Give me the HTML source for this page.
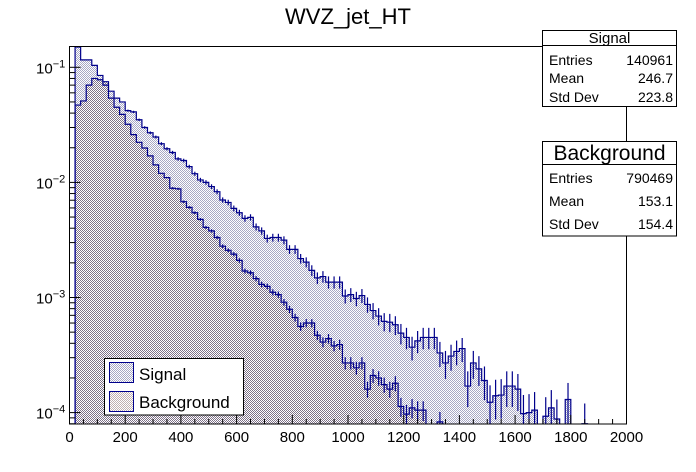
<!DOCTYPE html>
<html><head><meta charset="utf-8"><style>
html,body{margin:0;padding:0;background:#fff;}
svg{display:block;font-family:"Liberation Sans",Arial,sans-serif;}
</style></head><body>
<svg id="chart" width="696" height="472" viewBox="0 0 696 472">
<defs>
<pattern id="sigPat" patternUnits="userSpaceOnUse" width="2" height="2"><rect width="2" height="2" fill="#fff"/><rect x="0" y="0" width="1" height="1" fill="#a8a8c4"/><rect x="1" y="1" width="1" height="1" fill="#a8a8c4"/></pattern>
<pattern id="bkgPat" patternUnits="userSpaceOnUse" width="2" height="2"><rect width="2" height="2" fill="#fff"/><rect x="0" y="0" width="1" height="1" fill="#7e7288"/><rect x="1" y="1" width="1" height="1" fill="#7e7288"/></pattern>
<pattern id="bkgLegPat" patternUnits="userSpaceOnUse" width="2" height="2"><rect width="2" height="2" fill="#fff"/><rect x="0" y="0" width="1" height="1" fill="#c0b0b0"/><rect x="1" y="1" width="1" height="1" fill="#c0b0b0"/></pattern>
<clipPath id="frameClip"><rect x="69.5" y="46.5" width="557" height="377.5"/></clipPath>
</defs>
<text x="348" y="24" font-size="22" text-anchor="middle">WVZ_jet_HT</text>
<g id="plot" clip-path="url(#frameClip)"></g>
<rect x="69.5" y="46.5" width="557" height="377.5" fill="none" stroke="#000" stroke-width="1"/>
<g id="ticks"></g>

<g>
<rect x="542.5" y="30.5" width="134" height="76" fill="#fff" stroke="#000"/>
<line x1="542.5" y1="45.5" x2="676.5" y2="45.5" stroke="#000"/>
<text x="609.5" y="43" font-size="15" text-anchor="middle">Signal</text>
<text x="549" y="65" font-size="14">Entries</text><text x="673" y="65" font-size="14" text-anchor="end">140961</text>
<text x="549" y="83" font-size="14">Mean</text><text x="673" y="83" font-size="14" text-anchor="end">246.7</text>
<text x="549" y="102" font-size="14">Std Dev</text><text x="673" y="102" font-size="14" text-anchor="end">223.8</text>
</g>
<g>
<rect x="542.5" y="141.5" width="134" height="94.5" fill="#fff" stroke="#000"/>
<line x1="542.5" y1="164.5" x2="676.5" y2="164.5" stroke="#000"/>
<text x="609.5" y="160" font-size="21" text-anchor="middle">Background</text>
<text x="549" y="183" font-size="14">Entries</text><text x="673" y="183" font-size="14" text-anchor="end">790469</text>
<text x="549" y="206" font-size="14">Mean</text><text x="673" y="206" font-size="14" text-anchor="end">153.1</text>
<text x="549" y="229" font-size="14">Std Dev</text><text x="673" y="229" font-size="14" text-anchor="end">154.4</text>
</g>
<g>
<rect x="104.5" y="358.5" width="139" height="56.5" fill="#fff" stroke="#000"/>
<rect x="109.5" y="362.5" width="24" height="20" fill="url(#sigPat)" stroke="#00008b"/>
<text x="139" y="380" font-size="17">Signal</text>
<rect x="109.5" y="391.5" width="24" height="20" fill="url(#bkgLegPat)" stroke="#00008b"/>
<text x="139" y="408" font-size="17">Background</text>
</g>
</svg>
<script>
const binEdgesStart = 0;
const binWidth = 20;
const signalValues = [0,0.15,0.116,0.116,0.104,0.085,0.070,0.062,0.054,0.050,0.042,0.041,0.035,0.030,0.027,0.0248,0.0217,0.0196,0.0182,0.016,
0.0155,0.0137,0.0119,0.0105,0.0100,0.0092,0.0083,0.00703,0.0067,0.00595,0.00545,0.00487,0.00497,0.00411,0.00379,0.00326,0.00332,0.00332,0.00315,0.00262,
0.00262,0.00218,0.00203,0.00172,0.00148,0.00152,0.00136,0.00136,0.00136,0.00103,0.00106,0.00098,0.00104,0.00087,0.00077,0.00069,0.00062,0.00061,0.00058,0.00049,
0.00045,0.00037,0.00042,0.00045,0.00045,0.00045,0.00033,0.00027,0.00031,0.00034,0.00036,0.00017,0.00027,0.00024,0.00019,0.000123,0.00014,0.000142,0.00017,0.00017,
0.00016,0.000098,0.0001,0.000105,0,0.000093,0.00011,0.000088,0,0.00013,0,0,0.00008,0,0,0,0,0,0,0];
const backgroundValues = [0,0.047,0.051,0.070,0.080,0.078,0.075,0.054,0.045,0.039,0.032,0.026,0.0223,0.0199,0.017,0.0142,0.012,0.011,0.0089,0.0088,
0.0068,0.00607,0.00545,0.00477,0.00406,0.00379,0.00332,0.00279,0.00257,0.00238,0.0021,0.0017,0.00164,0.00146,0.0013,0.00125,0.00111,0.00106,0.00091,0.00079,
0.00067,0.00056,0.0006,0.0006,0.00047,0.00041,0.00044,0.00038,0.00039,0.00027,0.00027,0.000245,0.00027,0.00016,0.00021,0.0002,0.000175,0.00016,0.00018,0.000113,
0.000097,0.00011,0.000105,0.000105,0,0,0.000083,0,0,0,0,0,0,0,0,0,0,0,0,0,
0,0,0,0,0,0,0,0,0,0,0,0,0,0,0,0,0,0,0,0];
const xTickLabels = [0,200,400,600,800,1000,1200,1400,1600,1800,2000];
const yDecades = [-1,-2,-3,-4];
const signalEffN = 50000;
const backgroundEffN = 250000;

const NS = "http://www.w3.org/2000/svg";
const X0 = 69.5, X1 = 626.5, XMIN = 0, XMAX = 2000;
const YBOT = 424, YTOP = 46.5, Y_REF = 67.3, DEC = 115.1;
function xScale(v){ return X0 + (v - XMIN) * (X1 - X0) / (XMAX - XMIN); }
function yScale(v){ if (v <= 0) return YBOT + 2; const y = Y_REF + (-1 - Math.log10(v)) * DEC; return Math.min(y, YBOT + 2); }
function mk(tag, attrs, parent){ const e = document.createElementNS(NS, tag); for (const k in attrs) e.setAttribute(k, attrs[k]); parent.appendChild(e); return e; }

const plot = document.getElementById('plot');
function stepPath(vals){
  let d = 'M' + xScale(binEdgesStart) + ',' + (YBOT + 2);
  vals.forEach((v, i) => {
    const xl = xScale(binEdgesStart + i * binWidth), xr = xScale(binEdgesStart + (i + 1) * binWidth);
    const y = yScale(v);
    d += 'L' + xl.toFixed(2) + ',' + y.toFixed(2) + 'L' + xr.toFixed(2) + ',' + y.toFixed(2);
  });
  d += 'L' + xScale(binEdgesStart + vals.length * binWidth) + ',' + (YBOT + 2) + 'Z';
  return d;
}
function drawHist(vals, pat, name){
  const f = mk('path', {d: stepPath(vals), fill: pat, stroke: 'none', 'shape-rendering': 'crispEdges'}, plot);
  
  
}
function drawOutline(vals, effN, name){
  const o = mk('path', {d: stepPath(vals), fill: 'none', stroke: '#00008b', 'stroke-width': 1.2}, plot);
  
  
  vals.forEach((v, i) => {
    if (v <= 0) return;
    const rel = 1 / Math.sqrt(v * effN);
    const hi = v * (1 + rel), lo = Math.max(v * (1 - rel), 1e-6);
    const xc = xScale(binEdgesStart + (i + 0.5) * binWidth);
    if (yScale(lo) - yScale(hi) < 2) return;
    const e = mk('line', {x1: xc, x2: xc, y1: yScale(hi), y2: yScale(lo), stroke: '#00008b', 'stroke-width': 1.2}, plot);
    
    
  });
}
drawHist(signalValues, 'url(#sigPat)', 'signal');
drawHist(backgroundValues, 'url(#bkgPat)', 'background');
drawOutline(signalValues, signalEffN, 'signal');
drawOutline(backgroundValues, backgroundEffN, 'background');

const ticks = document.getElementById('ticks');
for (let v = XMIN; v <= XMAX; v += 50) {
  const x = xScale(v); const major = (v % 200 === 0);
  const t = mk('line', {x1: x, x2: x, y1: YBOT, y2: YBOT - (major ? 9 : 5), stroke: '#000'}, ticks);
  
  
}
xTickLabels.forEach(v => {
  const t = mk('text', {x: xScale(v), y: 442, 'font-size': 15, 'text-anchor': 'middle'}, ticks);
  t.textContent = v;
  
  
});
for (let d = -5; d <= 0; d++) {
  for (let m = 1; m <= 9; m++) {
    const v = m * Math.pow(10, d); const y = Y_REF + (-1 - Math.log10(v)) * DEC;
    if (y < YTOP || y > YBOT) continue;
    const t = mk('line', {x1: X0, x2: X0 + (m === 1 ? 11 : 6), y1: y, y2: y, stroke: '#000'}, ticks);
    
    
  }
}
yDecades.forEach(p => {
  const y = yScale(Math.pow(10, p));
  const t = mk('text', {x: 36, y: y + 6, 'font-size': 15}, ticks);
  
  
  t.appendChild(document.createTextNode('10'));
  const s = mk('tspan', {dy: -6, 'font-size': 11}, t);
  s.textContent = '\u2212' + (-p);
});
</script>
</body></html>
